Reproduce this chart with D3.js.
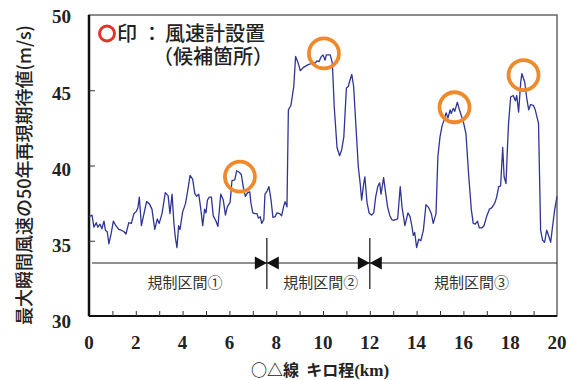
<!DOCTYPE html>
<html><head><meta charset="utf-8">
<script src="https://cdn.jsdelivr.net/npm/d3@7"></script>
<style>
html,body{margin:0;padding:0;background:#fff;}
svg{display:block;}
</style></head>
<body>
<svg id="chart" width="571" height="380"></svg>
<script>
// ---- data ----
const kmPos = [0.0,0.13,0.21,0.31,0.38,0.47,0.55,0.64,0.70,0.78,0.85,0.95,1.04,1.15,1.27,1.38,1.50,1.58,1.70,1.81,1.92,2.02,2.09,2.15,2.24,2.35,2.46,2.58,2.69,2.81,2.92,3.00,3.12,3.26,3.38,3.46,3.55,3.63,3.69,3.76,3.83,3.89,4.00,4.12,4.20,4.32,4.43,4.52,4.60,4.69,4.77,4.86,4.94,5.00,5.06,5.14,5.23,5.31,5.43,5.51,5.63,5.74,5.83,5.91,6.03,6.11,6.23,6.31,6.42,6.51,6.59,6.68,6.78,6.87,6.92,7.00,7.09,7.18,7.24,7.32,7.38,7.47,7.52,7.61,7.69,7.78,7.86,7.95,8.03,8.15,8.23,8.32,8.38,8.46,8.52,8.63,8.75,8.83,8.94,9.03,9.15,9.26,9.37,9.46,9.57,9.66,9.74,9.83,9.91,10.00,10.09,10.14,10.23,10.31,10.40,10.48,10.60,10.71,10.80,10.89,11.00,11.08,11.14,11.23,11.31,11.40,11.51,11.59,11.65,11.74,11.79,11.88,11.97,12.08,12.17,12.25,12.34,12.42,12.48,12.59,12.68,12.76,12.85,12.94,13.02,13.10,13.19,13.30,13.38,13.50,13.63,13.72,13.80,13.86,13.92,14.00,14.09,14.18,14.29,14.40,14.52,14.63,14.71,14.83,14.91,15.00,15.09,15.17,15.26,15.34,15.43,15.48,15.57,15.63,15.74,15.85,16.00,16.11,16.23,16.34,16.42,16.51,16.60,16.68,16.79,16.88,17.00,17.11,17.22,17.34,17.42,17.51,17.59,17.68,17.74,17.82,17.88,17.93,18.02,18.13,18.22,18.28,18.36,18.45,18.50,18.62,18.70,18.79,18.87,18.99,19.07,19.21,19.30,19.38,19.47,19.56,19.64,19.73,19.81,19.90,20.00];
const windSpeed = [36.6,36.7,35.9,36.2,35.9,36.1,35.8,36.3,35.7,35.6,34.8,35.5,36.3,36.0,35.75,35.7,35.6,35.45,36.2,36.15,36.8,36.95,37.2,37.9,36.0,36.8,37.6,37.45,37.1,35.75,36.45,36.15,36.8,38.2,38.0,36.8,38.1,36.15,35.2,34.55,36.0,35.75,36.9,37.45,38.15,39.35,39.1,38.15,37.95,38.1,37.2,36.0,37.1,36.85,37.7,37.9,37.9,36.65,36.3,35.95,38.1,37.7,36.7,37.25,37.55,39.0,39.05,39.65,39.55,39.4,38.6,37.95,38.2,38.25,37.5,36.85,36.8,36.8,36.5,36.6,36.15,36.4,38.1,38.3,38.6,37.7,36.55,36.6,36.85,36.8,36.65,37.3,37.6,37.25,43.7,44.0,45.25,47.25,46.8,46.3,46.5,46.6,46.7,46.75,46.85,46.8,46.95,46.9,47.2,47.35,47.0,47.35,47.35,47.35,46.8,43.9,41.2,40.65,41.05,41.9,45.15,45.25,45.6,46.05,45.25,42.8,39.9,38.8,37.7,38.8,39.25,37.55,36.85,36.7,36.85,37.9,38.6,38.85,38.1,39.2,38.15,37.25,36.7,36.4,36.35,36.4,36.45,38.6,37.2,36.0,36.85,36.6,35.95,35.35,35.55,34.55,35.1,35.0,35.7,37.4,37.2,36.8,36.15,36.8,40.6,41.9,42.65,43.0,43.5,43.15,43.7,43.45,43.8,43.6,44.2,43.6,42.9,42.1,39.25,37.05,36.15,36.1,36.3,35.85,35.85,36.0,36.65,37.1,37.2,37.5,37.9,38.6,38.65,41.2,39.25,38.8,41.1,42.8,44.55,44.65,44.3,44.65,43.55,45.55,46.1,45.55,44.55,43.7,44.05,44.0,43.7,42.8,35.7,35.05,34.9,35.7,35.35,34.9,35.95,37.05,37.95];

const xTickValues = [0,2,4,6,8,10,12,14,16,18,20];
const xMinorTicks = [1,2,3,4,5,6,7,8,9,10,11,12,13,14,15,16,17,18,19];
const yTickValues = [30,35,40,45,50];

// anemometer candidate sites (km, value)
const siteKm = [6.45, 10.04, 15.62, 18.57];
const siteVal = [39.26, 47.45, 43.87, 46.01];

// regulated sections
const sectionNames = ["規制区間①","規制区間②","規制区間③"];
const sectionLabelKm = [4.1, 9.9, 16.35];
const sectionBorders = [7.6, 12.0];

const yTitle = "最大瞬間風速の50年再現期待値(m/s)";
const xTitleJa = "○△線  キロ程";
const xTitleUnit = "(km)";

// ---- chart ----
const svg = d3.select("#chart");
const x = d3.scaleLinear().domain([0,20]).range([89,557]);
const y = d3.scaleLinear().domain([30,50]).range([316,15]);
const yLab = d3.scaleLinear().domain([30,50]).range([321.5,16.7]);

const serif = "'Liberation Serif','DejaVu Serif',serif";
const ja = "'Noto Sans CJK JP','Noto Sans',sans-serif";

// frame
svg.append("rect").attr("x",x(0)).attr("y",y(50)).attr("width",x(20)-x(0)).attr("height",y(30)-y(50))
  .attr("fill","none").attr("stroke","#666").attr("stroke-width",1.5);

// x axis (bottom), inward ticks
const xAxis = svg.append("g").attr("transform",`translate(0,${y(30)})`)
  .call(d3.axisTop(x).tickValues(xMinorTicks).tickSize(5).tickFormat(""));
xAxis.select(".domain").attr("stroke","#111").attr("stroke-width",2).attr("d",`M${x(0)},0H${x(20)}`);
xAxis.selectAll(".tick line").attr("stroke","#333").attr("stroke-width",1);

svg.append("g").selectAll("text").data(xTickValues).join("text")
  .attr("x",d=>x(d)).attr("y",349).attr("text-anchor","middle")
  .attr("font-family",serif).attr("font-weight","bold").attr("font-size",19).attr("fill","#222")
  .text(d=>d);

// y axis (left), inward ticks
const yAxis = svg.append("g").attr("transform",`translate(${x(0)},0)`)
  .call(d3.axisRight(y).tickValues([35,40,45]).tickSize(6).tickFormat(""));
yAxis.select(".domain").attr("stroke","#111").attr("stroke-width",2.5).attr("d",`M0,${y(30)}V${y(50)}`);
yAxis.selectAll(".tick line").attr("stroke","#333").attr("stroke-width",1);

svg.append("g").selectAll("text").data(yTickValues).join("text")
  .attr("x",71).attr("y",d=>yLab(d)).attr("dy","0.35em").attr("text-anchor","end")
  .attr("font-family",serif).attr("font-weight","bold").attr("font-size",19).attr("fill","#222")
  .text(d=>d);

// axis titles
svg.append("text").attr("transform",`translate(31,175) rotate(-90)`).attr("text-anchor","middle")
  .attr("font-family",ja).attr("font-size",18).attr("font-weight",500).attr("fill","#222")
  .text(yTitle);

const xt = svg.append("text").attr("x",320).attr("y",376).attr("text-anchor","middle")
  .attr("font-family",ja).attr("font-size",16).attr("font-weight","bold").attr("fill","#222");
xt.append("tspan").text(xTitleJa).attr("xml:space","preserve").style("white-space","pre");
xt.append("tspan").attr("font-family",serif).attr("font-size",17).text(xTitleUnit);

// line
const pts = kmPos.map((k,i)=>[k,windSpeed[i]]);
svg.append("path").datum(pts)
  .attr("fill","none").attr("stroke","#2e3595").attr("stroke-width",1.3).attr("stroke-linejoin","round")
  .attr("d",d3.line().x(d=>x(d[0])).y(d=>y(d[1])));

// section annotation
const yArrow = 263;
svg.append("line").attr("x1",x(0)+3).attr("x2",x(20)).attr("y1",yArrow).attr("y2",yArrow)
  .attr("stroke","#222").attr("stroke-width",1.2);
svg.append("g").selectAll("line").data(sectionBorders).join("line")
  .attr("x1",d=>x(d)).attr("x2",d=>x(d)).attr("y1",238).attr("y2",289)
  .attr("stroke","#222").attr("stroke-width",1.3);
const arrows = svg.append("g");
sectionBorders.forEach(b=>{
  const bx = x(b);
  arrows.append("path").attr("d",`M${bx},${yArrow}L${bx-12},${yArrow-6.5}L${bx-12},${yArrow+6.5}Z`).attr("fill","#111");
  arrows.append("path").attr("d",`M${bx},${yArrow}L${bx+12},${yArrow-6.5}L${bx+12},${yArrow+6.5}Z`).attr("fill","#111");
});
svg.append("g").selectAll("text").data(sectionNames).join("text")
  .attr("x",(d,i)=>x(sectionLabelKm[i])).attr("y",288).attr("text-anchor","middle")
  .attr("font-family",ja).attr("font-size",15).attr("fill","#333")
  .text(d=>d);

// orange circles
svg.append("g").selectAll("circle").data(siteKm).join("circle")
  .attr("cx",d=>x(d)).attr("cy",(d,i)=>y(siteVal[i])).attr("r",15)
  .attr("fill","none").attr("stroke","#ef8a2c").attr("stroke-width",3.8);

// legend (single text block, two lines)
svg.append("circle").attr("cx",107).attr("cy",33.5).attr("r",7.5)
  .attr("fill","none").attr("stroke","#e3342b").attr("stroke-width",3);
const lg = svg.append("text").attr("font-family",ja).attr("font-size",20).attr("font-weight",500).attr("fill","#222");
lg.append("tspan").attr("x",117).attr("y",41).text("印");
lg.append("tspan").attr("x",142).attr("y",41).text("：");
lg.append("tspan").attr("x",165).attr("y",41).text("風速計設置");
lg.append("tspan").attr("x",153).attr("y",64).text("（候補箇所）");
</script>
</body></html>
